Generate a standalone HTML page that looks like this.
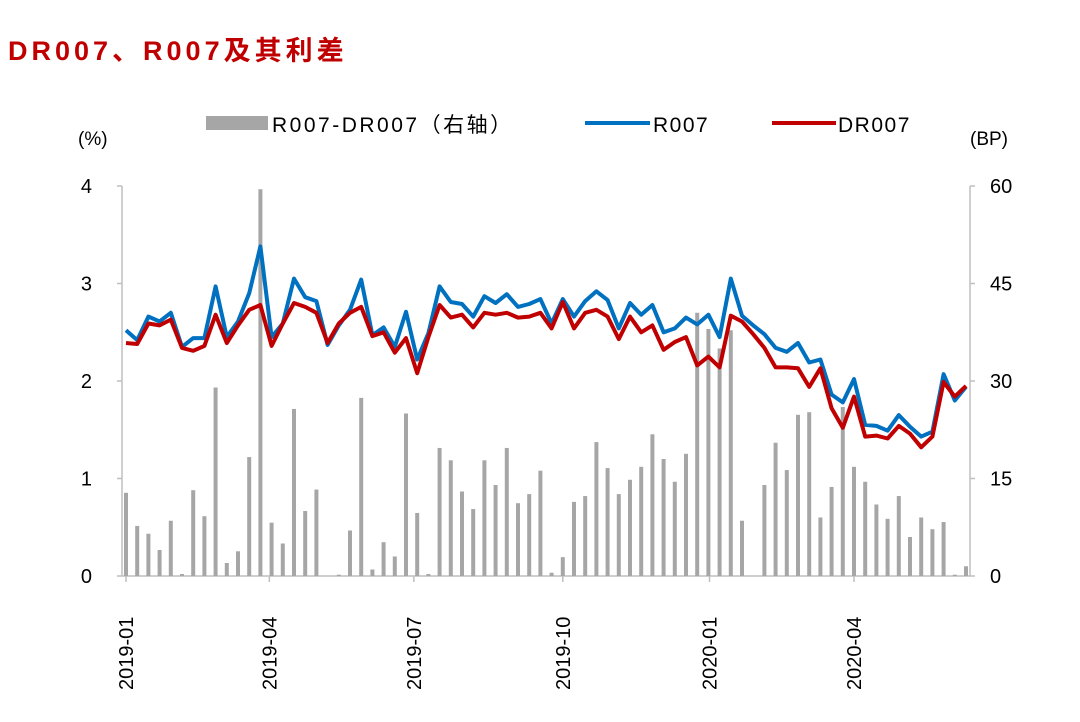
<!DOCTYPE html>
<html><head><meta charset="utf-8"><style>
body{margin:0;background:#fff;width:1080px;height:717px;overflow:hidden;font-family:"Liberation Sans","Noto Sans CJK SC",sans-serif}
</style></head><body>
<svg id="chart" width="1080" height="717" xmlns="http://www.w3.org/2000/svg" font-family="Liberation Sans, Noto Sans CJK SC, sans-serif">
<text x="8" y="60" font-size="27" font-weight="bold" fill="#c00000" letter-spacing="4">DR007、R007及其利差</text>
<g id="legend">
<rect x="206" y="116" width="62" height="14" fill="#a6a6a6"/>
<text x="272" y="132" font-size="21" fill="#000" letter-spacing="2.5">R007-DR007（右轴）</text>
<line x1="585" y1="123" x2="650" y2="123" stroke="#0070c0" stroke-width="4"/>
<text x="653" y="132" font-size="21" letter-spacing="1.5">R007</text>
<line x1="772" y1="123" x2="836" y2="123" stroke="#c00000" stroke-width="4"/>
<text x="838" y="132" font-size="21" letter-spacing="1.5">DR007</text>
</g>
<text x="78" y="145" font-size="19">(%)</text>
<text x="970" y="145" font-size="19">(BP)</text>
<g id="axes"></g>
<g id="bars"></g>
<g id="lines"></g>
</svg>
<script>
const spread=[12.8,7.7,6.5,4,8.5,0.3,13.2,9.2,29,2,3.8,18.3,59.5,8.2,5,25.7,10,13.3,0,0.2,7,27.4,1,5.2,3,25,9.7,0.3,19.7,17.8,13,10.3,17.8,14,19.7,11.2,12.6,16.2,0.5,2.9,11.4,12.3,20.6,16.6,12.6,14.8,16.8,21.8,18,14.5,18.8,40.5,38,35,37.8,8.5,0,14,20.5,16.3,24.8,25.2,9,13.7,26,16.8,14.5,11,8.8,12.3,6,9,7.2,8.3,0.2,1.5];
const r007=[2.52,2.42,2.66,2.61,2.70,2.35,2.44,2.44,2.97,2.45,2.61,2.90,3.38,2.45,2.59,3.05,2.86,2.82,2.37,2.57,2.73,3.04,2.47,2.55,2.35,2.71,2.22,2.49,2.97,2.81,2.79,2.66,2.87,2.80,2.89,2.76,2.79,2.84,2.59,2.84,2.66,2.82,2.92,2.83,2.54,2.80,2.68,2.78,2.50,2.54,2.65,2.58,2.68,2.45,3.05,2.67,2.57,2.48,2.34,2.30,2.39,2.19,2.22,1.86,1.78,2.02,1.55,1.54,1.49,1.65,1.53,1.43,1.48,2.07,1.80,1.94];
const dr007=[2.39,2.38,2.59,2.57,2.63,2.34,2.31,2.36,2.68,2.39,2.57,2.73,2.78,2.36,2.59,2.80,2.76,2.70,2.39,2.59,2.70,2.76,2.46,2.50,2.29,2.44,2.08,2.45,2.78,2.65,2.68,2.55,2.70,2.68,2.70,2.65,2.66,2.70,2.54,2.81,2.54,2.70,2.73,2.66,2.43,2.66,2.50,2.57,2.32,2.40,2.45,2.16,2.25,2.14,2.67,2.61,2.48,2.34,2.14,2.14,2.13,1.94,2.13,1.72,1.52,1.84,1.43,1.44,1.41,1.54,1.46,1.32,1.43,1.99,1.84,1.95];
const xTickLabels=["2019-01","2019-04","2019-07","2019-10","2020-01","2020-04"];
const xTickIdx=[0,12.8,25.7,39,52.1,65];
const leftTicks=[0,1,2,3,4];
const rightTicks=[0,15,30,45,60];
const NS="http://www.w3.org/2000/svg";
const X0=126,DX=11.2,Y0=576,Y1=186,LMAX=4,RMAX=60;
const xs=i=>X0+i*DX;
const yl=v=>Y0-(v/LMAX)*(Y0-Y1);
const yr=v=>Y0-(v/RMAX)*(Y0-Y1);
function mk(tag,attrs,parent){const e=document.createElementNS(NS,tag);for(const k in attrs)e.setAttribute(k,attrs[k]);parent.appendChild(e);return e;}
const axes=document.getElementById('axes');
let e;
e=mk('line',{x1:122,y1:186,x2:122,y2:576,stroke:'#bfbfbf','stroke-width':1.5},axes);


e=mk('line',{x1:970,y1:186,x2:970,y2:576,stroke:'#bfbfbf','stroke-width':1.5},axes);


e=mk('line',{x1:122,y1:576,x2:970,y2:576,stroke:'#bfbfbf','stroke-width':1.5},axes);


leftTicks.forEach(v=>{
  const y=yl(v);
  const t=mk('line',{x1:117,y1:y,x2:122,y2:y,stroke:'#bfbfbf','stroke-width':1.5},axes);
  
  
  const l=mk('text',{x:92,y:y+7,'font-size':20,'text-anchor':'end'},axes);
  
  
  l.textContent=v;
});
rightTicks.forEach(v=>{
  const y=yr(v);
  const t=mk('line',{x1:970,y1:y,x2:975,y2:y,stroke:'#bfbfbf','stroke-width':1.5},axes);
  
  
  const l=mk('text',{x:990,y:y+7,'font-size':20},axes);
  
  
  l.textContent=v;
});
xTickIdx.forEach((ix,k)=>{
  const x=xs(ix);
  const t=mk('line',{x1:x,y1:576,x2:x,y2:582,stroke:'#bfbfbf','stroke-width':1.5},axes);
  
  
  const l=mk('text',{x:x+7,y:690,'font-size':20,transform:`rotate(-90 ${x+7} 690)`},axes);
  
  
  l.textContent=xTickLabels[k];
});
const bars=document.getElementById('bars');
spread.forEach((v,i)=>{
  const y=yr(v);
  const b=mk('rect',{x:xs(i)-2,y:y,width:4,height:Math.max(0,Y0-y),fill:'#a6a6a6'},bars);
  
  
});
const lines=document.getElementById('lines');
function path(arr){return arr.map((v,i)=>(i?'L':'M')+xs(i).toFixed(1)+' '+yl(v).toFixed(1)).join(' ');}
e=mk('path',{d:path(r007),fill:'none',stroke:'#0070c0','stroke-width':4,'stroke-linejoin':'round'},lines);


e=mk('path',{d:path(dr007),fill:'none',stroke:'#c00000','stroke-width':4,'stroke-linejoin':'round'},lines);


</script>
</body></html>
